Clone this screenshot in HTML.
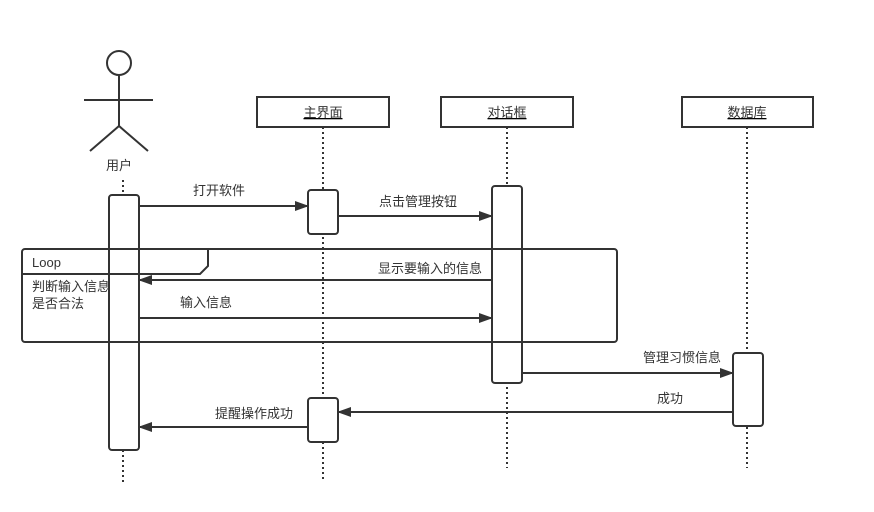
<!DOCTYPE html>
<html><head><meta charset="utf-8"><style>
html,body{margin:0;padding:0;background:#fff;width:874px;height:512px;overflow:hidden}
text{font-family:"Liberation Sans","Noto Sans CJK SC",sans-serif;font-size:13px;fill:#333}
</style></head><body>
<svg width="874" height="512" xmlns="http://www.w3.org/2000/svg">
<defs><marker id="a" markerWidth="14" markerHeight="10" refX="13" refY="5" orient="auto" markerUnits="userSpaceOnUse"><path d="M0,0 L14,5 L0,10 Z" fill="#333"/></marker></defs>
<g stroke="#333" stroke-width="2" fill="none">
<circle cx="119" cy="63" r="12" fill="#fff"/>
<line x1="119" y1="75" x2="119" y2="126"/>
<line x1="84" y1="100" x2="153" y2="100"/>
<polyline points="90,151 119,126 148,151"/>
</g>
<g stroke="#333" stroke-width="2" stroke-dasharray="2,3">
<line x1="123" y1="180" x2="123" y2="482"/>
<line x1="323" y1="127" x2="323" y2="480"/>
<line x1="507" y1="127" x2="507" y2="468"/>
<line x1="747" y1="127" x2="747" y2="468"/>
</g>
<text x="119" y="170" text-anchor="middle">用户</text>
<g stroke="#333" stroke-width="2" fill="#fff">
<rect x="257" y="97" width="132" height="30"/>
<rect x="441" y="97" width="132" height="30"/>
<rect x="682" y="97" width="131" height="30"/>
</g>
<g text-anchor="middle" text-decoration="underline">
<text x="323" y="117">主界面</text><text x="507" y="117">对话框</text><text x="747" y="117">数据库</text>
</g>
<g stroke="#333" stroke-width="2" fill="#fff">
<rect x="109" y="195" width="30" height="255" rx="3"/>
<rect x="308" y="190" width="30" height="44" rx="3"/>
<rect x="308" y="398" width="30" height="44" rx="3"/>
<rect x="492" y="186" width="30" height="197" rx="3"/>
<rect x="733" y="353" width="30" height="73" rx="3"/>
</g>
<g stroke="#333" stroke-width="2" fill="none">
<rect x="22" y="249" width="595" height="93" rx="3"/>
<polyline points="22,274 200,274 208,266 208,249"/>
</g>
<text x="32" y="267">Loop</text>
<text x="32" y="291">判断输入信息</text>
<text x="32" y="308">是否合法</text>
<g stroke="#333" stroke-width="2">
<line x1="139" y1="206" x2="308" y2="206" marker-end="url(#a)"/>
<line x1="338" y1="216" x2="492" y2="216" marker-end="url(#a)"/>
<line x1="492" y1="280" x2="139" y2="280" marker-end="url(#a)"/>
<line x1="139" y1="318" x2="492" y2="318" marker-end="url(#a)"/>
<line x1="522" y1="373" x2="733" y2="373" marker-end="url(#a)"/>
<line x1="733" y1="412" x2="338" y2="412" marker-end="url(#a)"/>
<line x1="308" y1="427" x2="139" y2="427" marker-end="url(#a)"/>
</g>
<g text-anchor="middle">
<text x="219" y="195">打开软件</text>
<text x="418" y="206">点击管理按钮</text>
<text x="430" y="273">显示要输入的信息</text>
<text x="206" y="307">输入信息</text>
<text x="682" y="362">管理习惯信息</text>
<text x="670" y="403">成功</text>
<text x="254" y="418">提醒操作成功</text>
</g>
</svg>
</body></html>
